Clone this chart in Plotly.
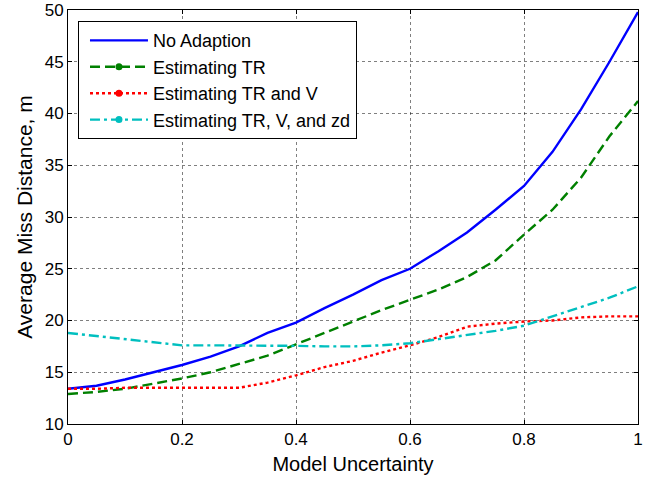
import plotly.graph_objects as go

x = [0.0, 0.05, 0.1, 0.15, 0.2, 0.25, 0.3, 0.35, 0.4, 0.45, 0.5,
     0.55, 0.6, 0.65, 0.7, 0.75, 0.8, 0.85, 0.9, 0.95, 1.0]

no_adaption = [13.4, 13.7, 14.3, 15.0, 15.7, 16.5, 17.5, 18.8, 19.8, 21.2, 22.5,
               23.9, 25.0, 26.7, 28.5, 30.7, 33.0, 36.3, 40.4, 45.0, 49.8]
est_tr = [12.9, 13.1, 13.4, 13.9, 14.4, 15.0, 15.8, 16.6, 17.7, 18.8, 19.9,
          21.0, 22.0, 23.0, 24.2, 25.8, 28.3, 30.7, 33.8, 37.8, 41.2]
est_tr_v = [13.4, 13.4, 13.5, 13.5, 13.5, 13.5, 13.5, 14.0, 14.7, 15.5, 16.1,
            16.9, 17.6, 18.4, 19.4, 19.7, 19.9, 20.0, 20.3, 20.4, 20.4]
est_tr_v_zd = [18.8, 18.5, 18.2, 17.9, 17.6, 17.6, 17.6, 17.6, 17.55, 17.5, 17.5,
               17.6, 17.8, 18.2, 18.6, 19.0, 19.5, 20.4, 21.3, 22.2, 23.3]

names = ["No Adaption", "Estimating TR", "Estimating TR and V", "Estimating TR, V, and zd"]
series = [no_adaption, est_tr, est_tr_v, est_tr_v_zd]
colors = ["#0000ff", "#008000", "#ff0000", "#00bfbf"]
dashes = ["solid", "10px,5px", "3px,3px", "10px,4px,3px,4px"]
has_marker = [False, True, True, True]

x_ticks = [0, 0.2, 0.4, 0.6, 0.8, 1]
y_ticks = [10, 15, 20, 25, 30, 35, 40, 45, 50]

fig = go.Figure()
for i, (nm, ys, c, d, m) in enumerate(zip(names, series, colors, dashes, has_marker)):
    fig.add_trace(go.Scatter(x=x, y=ys, mode="lines", name=nm, showlegend=False,
                             legendgroup=f"g{i}",
                             line=dict(color=c, width=2.4, dash=d)))
    fig.add_trace(go.Scatter(x=[None], y=[None], mode="lines+markers" if m else "lines",
                             name=nm, legendgroup=f"g{i}",
                             line=dict(color=c, width=2.4, dash=d),
                             marker=dict(color=c, size=7)))

axis_common = dict(
    showline=True, linecolor="black", linewidth=1, mirror="ticks",
    ticks="inside", ticklen=4, tickcolor="black",
    showgrid=True, gridcolor="rgba(0,0,0,0.5)", griddash="dot", gridwidth=1,
    zeroline=False, tickfont=dict(size=17, color="black"),
)

fig.update_xaxes(range=[0, 1], tickvals=x_ticks, ticktext=[str(v) for v in x_ticks],
                 title=dict(text="Model Uncertainty", font=dict(size=20, color="black"), standoff=8),
                 **axis_common)
fig.update_yaxes(range=[10, 50], tickvals=y_ticks,
                 title=dict(text="Average Miss Distance, m", font=dict(size=21, color="black"), standoff=6),
                 **axis_common)

fig.update_layout(
    width=655, height=481,
    margin=dict(l=68, r=17, t=10, b=57, autoexpand=False),
    paper_bgcolor="white", plot_bgcolor="white",
    font=dict(family="Liberation Sans, Arial, sans-serif", size=17, color="black"),
    legend=dict(x=0.0175, y=0.973, xanchor="left", yanchor="top",
                bgcolor="white", bordercolor="black", borderwidth=1,
                font=dict(size=18, color="black"), itemwidth=58, indentation=6,
                traceorder="grouped", tracegroupgap=0),
)

fig.write_html("out.html")
